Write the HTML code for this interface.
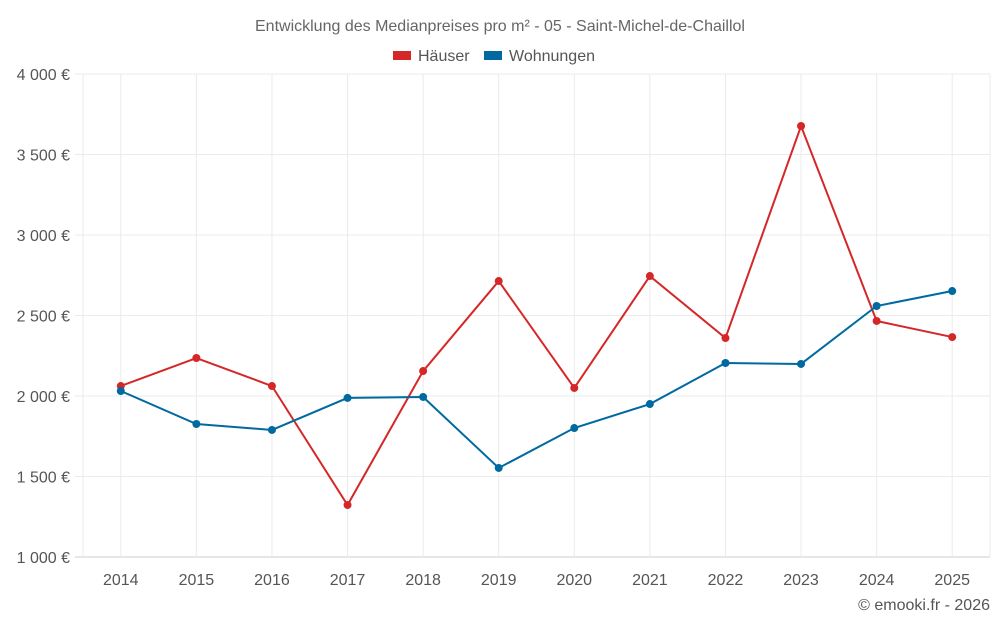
<!DOCTYPE html>
<html><head><meta charset="utf-8"><style>
body{margin:0;background:#fff;font-family:"Liberation Sans",sans-serif;}
svg text{font-family:"Liberation Sans",sans-serif;}
</style></head><body>
<svg id="chart" width="1000" height="625" viewBox="0 0 1000 625">
<text x="500" y="31" text-anchor="middle" font-size="16" fill="#666">Entwicklung des Medianpreises pro m² - 05 - Saint-Michel-de-Chaillol</text>
<g>
<g><rect x="393" y="51" width="18" height="9" fill="#d62728"/><text x="418" y="61" font-size="16" fill="#555">Häuser</text></g>
<g><rect x="484" y="51" width="18" height="9" fill="#0069a0"/><text x="509" y="61" font-size="16" fill="#555">Wohnungen</text></g>
</g>
<g id="grid"></g><g id="axes"></g><g id="series"></g>
<text x="990" y="610" text-anchor="end" font-size="16" fill="#555">© emooki.fr - 2026</text>
</svg>
<script>
const years=["2014","2015","2016","2017","2018","2019","2020","2021","2022","2023","2024","2025"];
const haeuser=[2062,2236,2062,1323,2155,2714,2050,2745,2360,3677,2466,2366];
const wohnungen=[2031,1826,1789,1988,1994,1553,1801,1950,2205,2199,2559,2652];
const yTicks=[1000,1500,2000,2500,3000,3500,4000];
const yLabels=["1 000 €","1 500 €","2 000 €","2 500 €","3 000 €","3 500 €","4 000 €"];
const L=83,R=990,T=74,B=557,NS="http://www.w3.org/2000/svg";
const band=(R-L)/years.length;
const x=i=>L+band*(i+0.5);
const y=v=>B-(v-1000)/3000*(B-T);
function mk(t,a,p){const e=document.createElementNS(NS,t);for(const k in a)e.setAttribute(k,a[k]);p.appendChild(e);return e;}
const g=document.getElementById('grid'),ax=document.getElementById('axes'),s=document.getElementById('series');
yTicks.forEach((v,i)=>{
 const l=mk('line',{x1:75,x2:R,y1:y(v),y2:y(v),stroke:i==0?'#ccc':'#ebebeb'},g);
 
 
 const t=mk('text',{x:70,y:y(v)+6,'text-anchor':'end','font-size':16,fill:'#555'},ax);t.textContent=yLabels[i];
 
 
});
const vx=[L,R];
years.forEach((yr,i)=>vx.push(x(i)));
vx.forEach(px=>{
 const l=mk('line',{x1:px,x2:px,y1:T,y2:B,stroke:'#ebebeb'},g);
 
 
});
years.forEach((yr,i)=>{
 const t=mk('text',{x:x(i),y:585,'text-anchor':'middle','font-size':16,fill:'#555'},ax);t.textContent=yr;
 
 
});
function series(d,c,n){
 const p=mk('polyline',{points:d.map((v,i)=>x(i)+','+y(v)).join(' '),fill:'none',stroke:c,'stroke-width':2},s);
 
 
 d.forEach((v,i)=>{const m=mk('circle',{cx:x(i),cy:y(v),r:4,fill:c},s);
 
 });
}
series(haeuser,'#d62728','haeuser');
series(wohnungen,'#0069a0','wohnungen');
</script>
</body></html>
